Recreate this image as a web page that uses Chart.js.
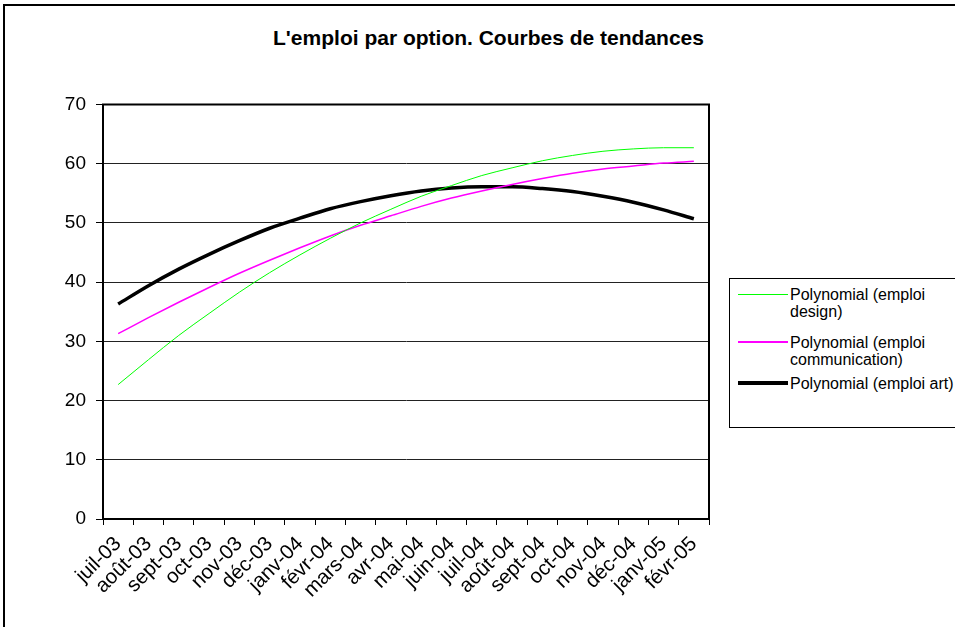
<!DOCTYPE html>
<html>
<head>
<meta charset="utf-8">
<script src="https://cdn.jsdelivr.net/npm/chart.js@4/dist/chart.umd.min.js"></script>
<style>
  html, body { margin: 0; padding: 0; background: #fff; overflow: hidden; }
  body { width: 955px; height: 627px; position: relative; font-family: 'Liberation Sans', Arial, sans-serif; }
  #frame { position: absolute; left: 3px; top: 4px; width: 1000px; height: 700px; border: 2px solid #000; }
  #wrap { position: absolute; left: 0; top: 0; width: 955px; height: 627px; }
  #title { position: absolute; left: 0; top: 26px; width: 977px; text-align: center; font-weight: bold; font-size: 21px; line-height: 24px; color: #000; }
  #legend { position: absolute; left: 729px; top: 278px; width: 260px; height: 148px; border: 1.5px solid #000; background: #fff; }
  .item { position: absolute; left: 8px; font-size: 16px; line-height: 17px; color: #000; }
  .item .swatch { position: absolute; left: 0; width: 50px; }
  .item .txt { position: absolute; left: 52px; width: 170px; }
</style>
</head>
<body>
<div id="frame"></div>
<div id="title">L'emploi par option. Courbes de tendances</div>
<div id="wrap"><canvas id="chartCanvas"></canvas></div>
<div id="legend"></div>
<script>
/* Trend lines, one value per month */
const months = ['juil-03','août-03','sept-03','oct-03','nov-03','déc-03',
  'janv-04','févr-04','mars-04','avr-04','mai-04','juin-04','juil-04','août-04',
  'sept-04','oct-04','nov-04','déc-04','janv-05','févr-05'];
const emploiDesign = [22.7, 26.9, 31.0, 34.7, 38.3, 41.6, 44.6, 47.4, 50.0, 52.3,
  54.5, 56.3, 58.0, 59.3, 60.5, 61.4, 62.1, 62.5, 62.7, 62.7];
const emploiCommunication = [31.3, 34.0, 36.6, 39.1, 41.5, 43.7, 45.8, 47.8, 49.6, 51.2,
  52.8, 54.2, 55.4, 56.5, 57.5, 58.4, 59.1, 59.6, 60.1, 60.4];
const emploiArt = [36.3, 39.4, 42.2, 44.7, 47.0, 49.1, 50.8, 52.4, 53.6, 54.6,
  55.4, 55.9, 56.1, 56.1, 55.8, 55.3, 54.5, 53.5, 52.2, 50.7];
const yTicks = [0, 10, 20, 30, 40, 50, 60, 70];

const $ = (sel) => document.querySelector(sel);
const FONT = "'Liberation Sans', Arial, sans-serif";

// Excel-like plot area border
const plotFrame = {
  id: 'plotFrame',
  afterDraw(c) {
    const { ctx, chartArea: a } = c;
    ctx.save();
    ctx.strokeStyle = '#000';
    ctx.lineWidth = 2;
    ctx.strokeRect(a.left, a.top, a.right - a.left, a.bottom - a.top);
    ctx.restore();
  }
};

const series = (label, data, color, width) => ({
  label, data, borderColor: color, backgroundColor: color, borderWidth: width,
  pointRadius: 0, fill: false, cubicInterpolationMode: 'monotone'
});

const chart = new Chart($('#chartCanvas'), {
  type: 'line',
  data: {
    labels: months,
    datasets: [
      series('Polynomial (emploi design)', emploiDesign, '#00ff00', 1),
      series('Polynomial (emploi communication)', emploiCommunication, '#ff00ff', 1.5),
      series('Polynomial (emploi art)', emploiArt, '#000000', 3.5)
    ]
  },
  options: {
    responsive: true,
    maintainAspectRatio: false,
    animation: false,
    layout: { padding: { left: 0, top: 104.5, right: 246, bottom: 0 } },
    plugins: { legend: { display: false }, title: { display: false }, tooltip: { enabled: false } },
    scales: {
      x: {
        offset: true,
        afterFit(s) { s.height = 108; },
        border: { color: '#000', width: 2 },
        grid: { offset: true, drawOnChartArea: false, drawTicks: true, tickLength: 6, color: '#000', tickWidth: 1 },
        ticks: { autoSkip: false, minRotation: 45, maxRotation: 45, padding: 7, color: '#000', font: { family: FONT, size: 20.5 } }
      },
      y: {
        min: 0, max: 70,
        afterFit(s) { s.width = 103; },
        afterBuildTicks(s) { s.ticks = yTicks.map(v => ({ value: v })); },
        border: { color: '#000', width: 2 },
        grid: { color: '#222', lineWidth: 1, tickLength: 7, tickColor: '#000' },
        ticks: { padding: 10, color: '#000', font: { family: FONT, size: 19 } }
      }
    }
  },
  plugins: [plotFrame]
});

// Legend box on the right, built from the datasets
const LEGEND_TOPS = [7, 55, 96];
function renderLegend() {
  const el = $('#legend');
  el.innerHTML = '';
  chart.data.datasets.forEach((ds, i) => {
    const h = Math.max(1, Math.round(ds.borderWidth));
    const item = document.createElement('div');
    item.className = 'item';
    item.style.top = LEGEND_TOPS[i] + 'px';
    const sw = document.createElement('div');
    sw.className = 'swatch';
    sw.style.top = (8 - Math.floor(h / 2)) + 'px';
    sw.style.height = h + 'px';
    sw.style.background = ds.borderColor;
    const txt = document.createElement('div');
    txt.className = 'txt';
    txt.textContent = ds.label;
    item.appendChild(sw);
    item.appendChild(txt);
    el.appendChild(item);
  });
}
renderLegend();
</script>
</body>
</html>
